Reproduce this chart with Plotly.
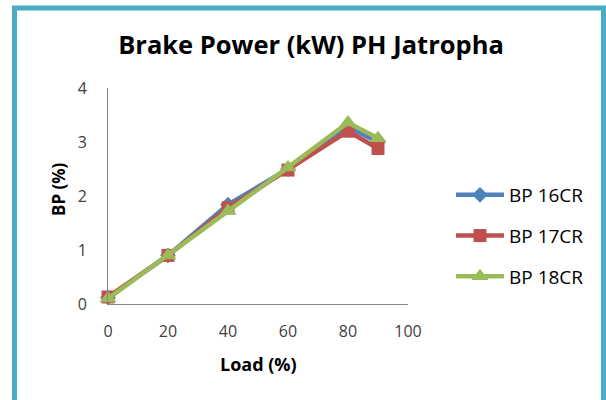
import plotly.graph_objects as go

# Load (%) and brake power readings for each compression ratio
load = [0, 20, 40, 60, 80, 90]
bp_16cr = [0.12, 0.90, 1.84, 2.50, 3.28, 3.00]
bp_17cr = [0.13, 0.90, 1.78, 2.48, 3.20, 2.88]
bp_18cr = [0.10, 0.90, 1.72, 2.53, 3.36, 3.07]

x_ticks = [0, 20, 40, 60, 80, 100]
y_ticks = [0, 1, 2, 3, 4]

FONT = "Open Sans"

series = [
    ("BP 16CR", bp_16cr, "#4F81BD", "diamond", 12),
    ("BP 17CR", bp_17cr, "#C0504D", "square", 13),
    ("BP 18CR", bp_18cr, "#9BBB59", "triangle-up", 15),
]

fig = go.Figure()
for i, (name, vals, color, symbol, size) in enumerate(series):
    fig.add_trace(go.Scatter(
        x=load, y=vals, name=name, mode="lines+markers",
        line=dict(color=color, width=4.5),
        marker=dict(symbol=symbol, size=size, color=color),
        cliponaxis=False, legendgroup=str(i),
    ))

W, H = 606, 400
L, R, T, B = 108, 198, 88, 96
pw, ph = W - L - R, H - T - B


def px_x(v):
    return (v - L) / pw


def px_y(v):
    return (H - B - v) / ph


fig.update_layout(
    width=W, height=H,
    margin=dict(l=L, r=R, t=T, b=B),
    paper_bgcolor="white", plot_bgcolor="white",
    font=dict(family=FONT, color="#404040", size=16),
    title=dict(text="<b>Brake Power (kW) PH Jatropha</b>",
               x=px_x(311), xanchor="center", xref="paper",
               y=1 - 45 / H, yanchor="middle",
               font=dict(family=FONT, size=25.5, color="black")),
    xaxis=dict(range=[0, 100], tickvals=x_ticks, showline=True,
               linecolor="#868686", linewidth=1, showgrid=False,
               zeroline=False, ticks="", ticklabelstandoff=13,
               tickfont=dict(size=16, color="#404040")),
    yaxis=dict(range=[0, 4], tickvals=y_ticks, showline=True,
               linecolor="#868686", linewidth=1, showgrid=False,
               zeroline=False, ticks="", ticklabelstandoff=17,
               tickfont=dict(size=16, color="#404040")),
    annotations=[
        dict(text="<b>Load (%)</b>", xref="paper", yref="paper",
             x=px_x(258), y=px_y(364), xanchor="center", yanchor="middle",
             showarrow=False, font=dict(family=FONT, size=18, color="black")),
        dict(text="<b>BP (%)</b>", xref="paper", yref="paper",
             x=px_x(58), y=px_y(189), xanchor="center", yanchor="middle",
             textangle=-90, showarrow=False,
             font=dict(family=FONT, size=17, color="black")),
    ],
    legend=dict(x=px_x(451), y=px_y(176), xanchor="left", yanchor="top",
                font=dict(family=FONT, size=19, color="black"),
                tracegroupgap=13, itemwidth=48, bgcolor="rgba(0,0,0,0)"),
    shapes=[dict(type="rect", xref="paper", yref="paper",
                 x0=px_x(14.5), x1=px_x(603.5), y0=px_y(420), y1=px_y(8),
                 line=dict(color="#4BACC6", width=5), layer="below")],
)

fig.write_html("out.html")
